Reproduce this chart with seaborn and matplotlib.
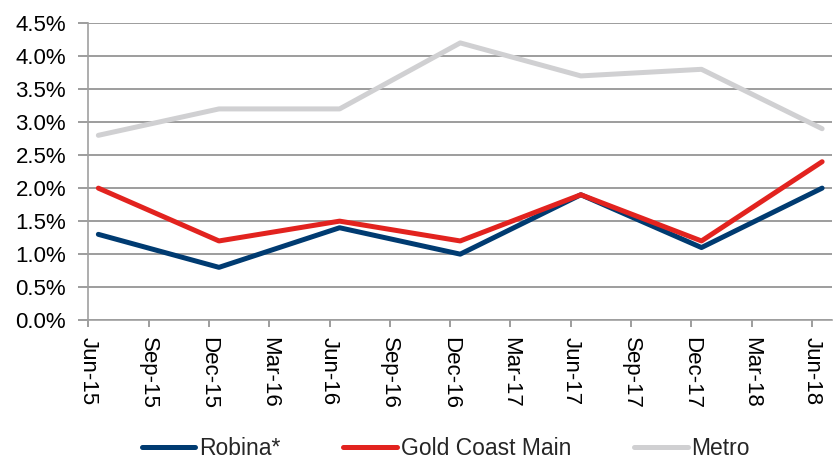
import pandas as pd
import seaborn as sns
import matplotlib.pyplot as plt
from matplotlib.ticker import FuncFormatter

periods = ['Jun-15', 'Dec-15', 'Jun-16', 'Dec-16', 'Jun-17', 'Dec-17', 'Jun-18']
robina = [1.3, 0.8, 1.4, 1.0, 1.9, 1.1, 2.0]
gold_coast = [2.0, 1.2, 1.5, 1.2, 1.9, 1.2, 2.4]
metro = [2.8, 3.2, 3.2, 4.2, 3.7, 3.8, 2.9]
tick_labels = ['Jun-15', 'Sep-15', 'Dec-15', 'Mar-16', 'Jun-16', 'Sep-16', 'Dec-16',
               'Mar-17', 'Jun-17', 'Sep-17', 'Dec-17', 'Mar-18', 'Jun-18']

# months since Jun-15, points sit mid-month like the excel date axis
months = [i * 6 + 0.5 for i in range(len(periods))]

df = pd.DataFrame({
    'month': months * 3,
    'value': robina + gold_coast + metro,
    'series': ['Robina*'] * 7 + ['Gold Coast Main'] * 7 + ['Metro'] * 7,
})

sns.set_style('white')
plt.rcParams['font.family'] = ['Liberation Sans', 'DejaVu Sans']

fig = plt.figure(figsize=(8.33, 4.62), dpi=100)
ax = fig.add_axes([0.106, 0.307, 0.893, 0.643])

palette = {'Robina*': '#003B71', 'Gold Coast Main': '#E2231F', 'Metro': '#D0D0D2'}
sns.lineplot(data=df, x='month', y='value', hue='series', palette=palette,
             linewidth=3.6, ax=ax, solid_capstyle='round', solid_joinstyle='round')

ax.set_ylim(0, 4.5)
ax.set_yticks([i * 0.5 for i in range(10)])
ax.yaxis.set_major_formatter(FuncFormatter(lambda v, p: f'{v:.1f}%'))
ax.set_xlim(0, 37)
ax.set_xticks([i * 3 for i in range(len(tick_labels))])
ax.set_xticklabels(tick_labels, rotation=270)
ax.set_xlabel('')
ax.set_ylabel('')

ax.grid(axis='y', color='#8c8c8c', linewidth=1.2)
ax.set_axisbelow(True)
for s in ['top', 'right']:
    ax.spines[s].set_visible(False)
for s in ['left', 'bottom']:
    ax.spines[s].set_color('#a0a0a0')
    ax.spines[s].set_linewidth(1.2)
ax.tick_params(axis='both', which='major', direction='out', width=1.2,
               color='#8c8c8c', labelsize=16, labelcolor='black', left=True, bottom=True)
ax.tick_params(axis='y', length=7, pad=9)
ax.tick_params(axis='x', length=5, pad=7)

handles, labels = ax.get_legend_handles_labels()
ax.get_legend().remove()
fig.legend(handles, labels, loc='center', bbox_to_anchor=(0.535, 0.03), ncol=3,
           frameon=False, fontsize=16.5, handlelength=2.35, columnspacing=2.75,
           handletextpad=0.15, borderpad=0)

fig.savefig('out.png', dpi=100)
